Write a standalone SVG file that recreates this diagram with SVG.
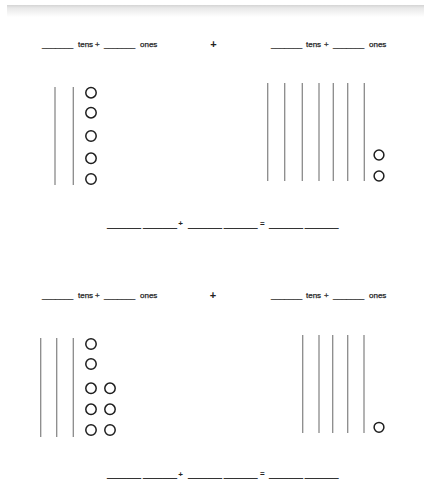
<svg xmlns="http://www.w3.org/2000/svg" width="424" height="483" viewBox="0 0 424 483">
  <defs>
    <linearGradient id="topShade" x1="0" y1="0" x2="0" y2="1">
      <stop offset="0" stop-color="#d4d4d4"/>
      <stop offset="0.25" stop-color="#e8e8e8"/>
      <stop offset="1" stop-color="#ffffff"/>
    </linearGradient>
    <style>
      .lbl { font-family: "Liberation Sans", Arial, sans-serif; font-size: 8px; fill: #222; stroke: #222; stroke-width: 0.25; }
      .big { font-family: "Liberation Sans", Arial, sans-serif; font-size: 11px; font-weight: bold; fill: #222; text-anchor: middle; }
      .op { font-family: "Liberation Sans", Arial, sans-serif; font-size: 8px; font-weight: bold; fill: #222; text-anchor: middle; }
      .blank { font-family: "Liberation Sans", Arial, sans-serif; font-size: 8px; fill: #333; stroke: #333; stroke-width: 0.4; }
      .rod { stroke: #8a8a8a; stroke-width: 1.3; fill: none; }
      .one { stroke: #1e1e1e; stroke-width: 1.5; fill: none; }
    </style>
  </defs>
  <rect width="424" height="483" fill="#ffffff"/>
  <rect x="7" y="5" width="417" height="12" fill="url(#topShade)"/>

  <!-- Problem 1 -->
  <g id="header-1a">
    <text class="lbl" y="47"><tspan x="42">_______</tspan><tspan x="78">tens</tspan><tspan x="95">+</tspan><tspan x="104">_______</tspan><tspan x="140">ones</tspan></text>
  </g>
  <g id="plus-1">
    <text class="big" x="213.5" y="48">+</text>
  </g>
  <g id="header-1b">
    <text class="lbl" y="47"><tspan x="271">_______</tspan><tspan x="306">tens</tspan><tspan x="324">+</tspan><tspan x="333">_______</tspan><tspan x="369">ones</tspan></text>
  </g>

  <g id="blocks-1a">
    <line class="rod" x1="55" y1="87" x2="55" y2="185"/>
    <line class="rod" x1="73.3" y1="87" x2="73.3" y2="185"/>
    <circle class="one" cx="91" cy="92.7" r="5.2"/>
    <circle class="one" cx="91" cy="112.7" r="5.2"/>
    <circle class="one" cx="91" cy="136" r="5.2"/>
    <circle class="one" cx="91" cy="158.3" r="5.2"/>
    <circle class="one" cx="91" cy="179" r="5.2"/>
  </g>

  <g id="blocks-1b">
    <line class="rod" x1="267.7" y1="83" x2="267.7" y2="181"/>
    <line class="rod" x1="284.7" y1="83" x2="284.7" y2="181"/>
    <line class="rod" x1="302.3" y1="83" x2="302.3" y2="181"/>
    <line class="rod" x1="319" y1="83" x2="319" y2="181"/>
    <line class="rod" x1="333.3" y1="83" x2="333.3" y2="181"/>
    <line class="rod" x1="347.7" y1="83" x2="347.7" y2="181"/>
    <line class="rod" x1="364.3" y1="83" x2="364.3" y2="181"/>
    <circle class="one" cx="379" cy="155" r="4.9"/>
    <circle class="one" cx="379" cy="176" r="4.9"/>
  </g>

  <g id="equation-1">
    <text class="blank" x="107.3" y="226.5" textLength="33.4" lengthAdjust="spacingAndGlyphs">_______</text>
    <text class="blank" x="143.3" y="226.5" textLength="33.4" lengthAdjust="spacingAndGlyphs">_______</text>
    <text class="op" x="180.7" y="226">+</text>
    <text class="blank" x="188.3" y="226.5" textLength="33.4" lengthAdjust="spacingAndGlyphs">_______</text>
    <text class="blank" x="224" y="226.5" textLength="33.4" lengthAdjust="spacingAndGlyphs">_______</text>
    <text class="op" x="262.3" y="225.5">=</text>
    <text class="blank" x="269.3" y="226.5" textLength="33.4" lengthAdjust="spacingAndGlyphs">_______</text>
    <text class="blank" x="305" y="226.5" textLength="33.4" lengthAdjust="spacingAndGlyphs">_______</text>
  </g>

  <!-- Problem 2 -->
  <g id="header-2a">
    <text class="lbl" y="298"><tspan x="42">_______</tspan><tspan x="78">tens</tspan><tspan x="95">+</tspan><tspan x="104">_______</tspan><tspan x="140">ones</tspan></text>
  </g>
  <g id="plus-2">
    <text class="big" x="213" y="299">+</text>
  </g>
  <g id="header-2b">
    <text class="lbl" y="298"><tspan x="271">_______</tspan><tspan x="306">tens</tspan><tspan x="324">+</tspan><tspan x="333">_______</tspan><tspan x="369">ones</tspan></text>
  </g>

  <g id="blocks-2a">
    <line class="rod" x1="40.7" y1="338" x2="40.7" y2="437"/>
    <line class="rod" x1="56.7" y1="338" x2="56.7" y2="437"/>
    <line class="rod" x1="73.3" y1="338" x2="73.3" y2="437"/>
    <circle class="one" cx="91" cy="344" r="5.2"/>
    <circle class="one" cx="91" cy="364" r="5.2"/>
    <circle class="one" cx="91" cy="388.3" r="5.2"/>
    <circle class="one" cx="110" cy="388.3" r="5.2"/>
    <circle class="one" cx="91" cy="409.3" r="5.2"/>
    <circle class="one" cx="110" cy="409.3" r="5.2"/>
    <circle class="one" cx="91" cy="430" r="5.2"/>
    <circle class="one" cx="110" cy="430" r="5.2"/>
  </g>

  <g id="blocks-2b">
    <line class="rod" x1="302.7" y1="335" x2="302.7" y2="433"/>
    <line class="rod" x1="319" y1="335" x2="319" y2="433"/>
    <line class="rod" x1="332.7" y1="335" x2="332.7" y2="433"/>
    <line class="rod" x1="347.7" y1="335" x2="347.7" y2="433"/>
    <line class="rod" x1="364" y1="335" x2="364" y2="433"/>
    <circle class="one" cx="379" cy="427.3" r="4.9"/>
  </g>

  <g id="equation-2">
    <text class="blank" x="107.3" y="477" textLength="33.4" lengthAdjust="spacingAndGlyphs">_______</text>
    <text class="blank" x="143.3" y="477" textLength="33.4" lengthAdjust="spacingAndGlyphs">_______</text>
    <text class="op" x="180.7" y="476.5">+</text>
    <text class="blank" x="188.3" y="477" textLength="33.4" lengthAdjust="spacingAndGlyphs">_______</text>
    <text class="blank" x="224" y="477" textLength="33.4" lengthAdjust="spacingAndGlyphs">_______</text>
    <text class="op" x="262.3" y="476">=</text>
    <text class="blank" x="269.3" y="477" textLength="33.4" lengthAdjust="spacingAndGlyphs">_______</text>
    <text class="blank" x="305" y="477" textLength="33.4" lengthAdjust="spacingAndGlyphs">_______</text>
  </g>
</svg>
